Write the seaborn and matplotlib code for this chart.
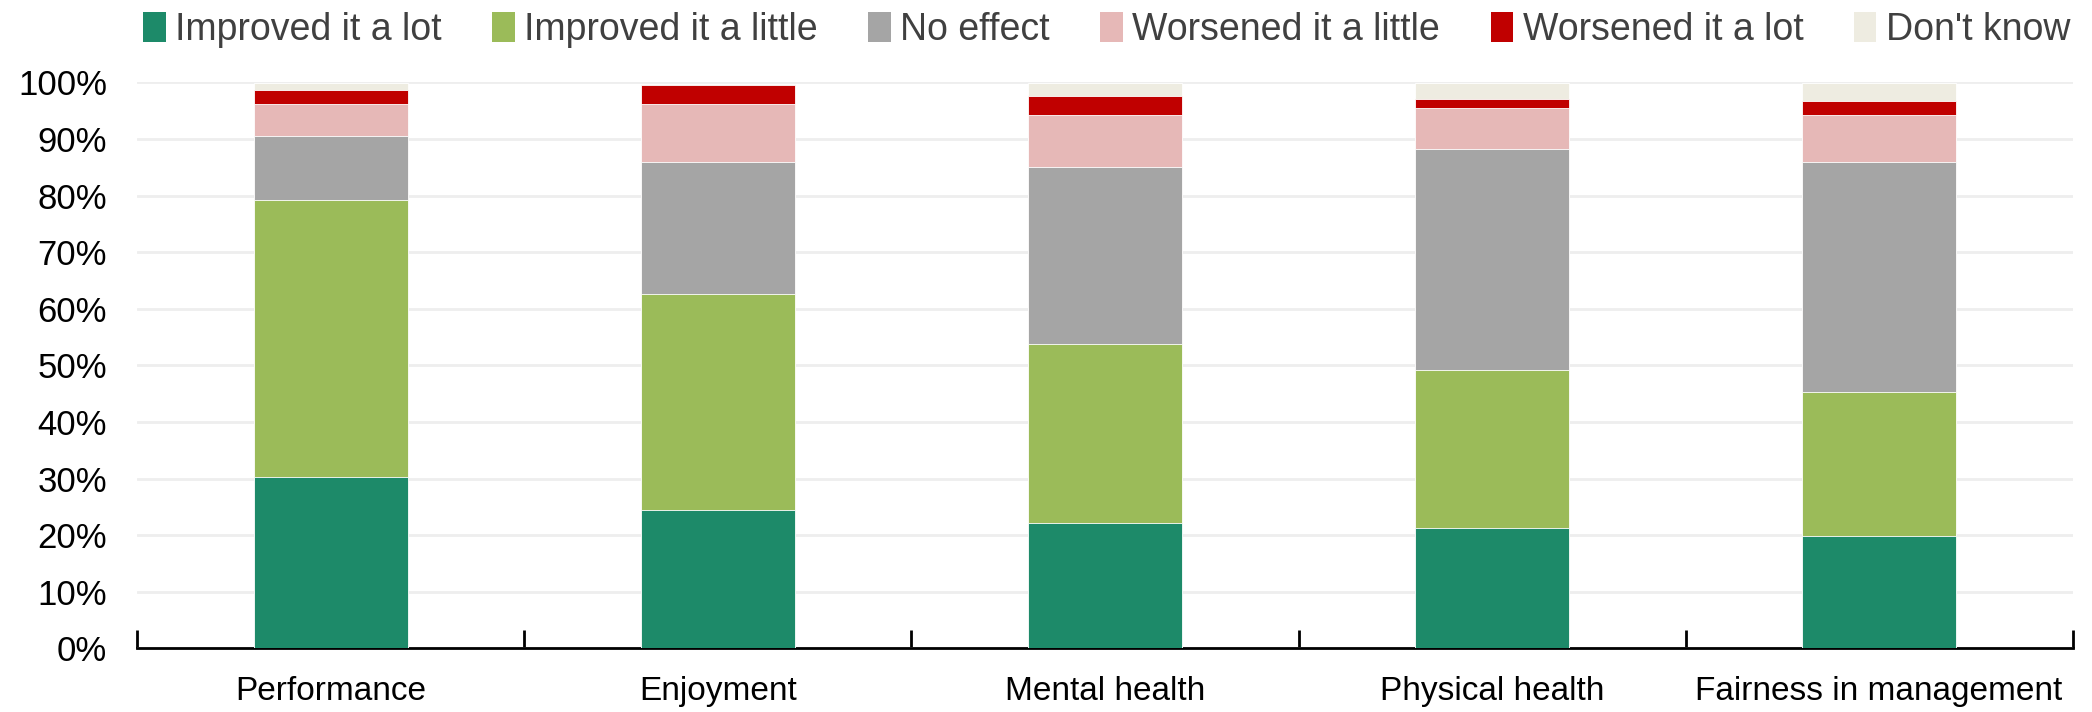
import pandas as pd
import numpy as np
import matplotlib
matplotlib.use("Agg")
import matplotlib.pyplot as plt
from matplotlib.patches import Patch
from matplotlib.ticker import MultipleLocator, FixedLocator, PercentFormatter
import seaborn as sns

# Data (share of respondents, %)
categories = ["Performance", "Enjoyment", "Mental health", "Physical health", "Fairness in management"]
improved_lot = [30.2, 24.5, 22.2, 21.2, 19.8]
improved_little = [49.1, 38.2, 31.6, 27.9, 25.5]
no_effect = [11.3, 23.2, 31.2, 39.1, 40.6]
worsened_little = [5.6, 10.3, 9.3, 7.2, 8.4]
worsened_lot = [2.4, 3.3, 3.3, 1.7, 2.4]
dont_know = [1.3, 0.3, 2.3, 2.8, 3.2]

series = ["Improved it a lot", "Improved it a little", "No effect",
          "Worsened it a little", "Worsened it a lot", "Don't know"]
colors = ["#1D8A69", "#9BBB59", "#A5A5A5", "#E6B8B7", "#C00000", "#EEECE1"]

df = pd.DataFrame({
    "Category": categories,
    series[0]: improved_lot,
    series[1]: improved_little,
    series[2]: no_effect,
    series[3]: worsened_little,
    series[4]: worsened_lot,
    series[5]: dont_know,
})

# cumulative sums for stacking
cum = df[series].cumsum(axis=1)
cum["Category"] = df["Category"]

sns.set_style("white")
plt.rcParams['font.family'] = ['Liberation Sans', 'DejaVu Sans']

fig = plt.figure(figsize=(20.92, 7.12), dpi=100)
ax = fig.add_axes([0.0657, 0.0893, 0.925, 0.795])

# draw from the top layer down so each lower layer covers the one above
for name, col in reversed(list(zip(series, colors))):
    sns.barplot(data=cum, x="Category", y=name, color=col, width=0.4,
                saturation=1, edgecolor="white", linewidth=0.6, ax=ax, zorder=3)

ax.set_ylim(0, 100)
ax.set_xlim(-0.5, len(categories) - 0.5)
ax.yaxis.set_major_locator(MultipleLocator(10))
ax.yaxis.set_major_formatter(PercentFormatter(decimals=0))
ax.grid(axis="y", color="#EEEEEE", linewidth=2, zorder=0)
ax.set_axisbelow(True)

ax.set_xlabel("")
ax.set_ylabel("")
for s in ["left", "right", "top"]:
    ax.spines[s].set_visible(False)
ax.spines["bottom"].set_color("black")
ax.spines["bottom"].set_linewidth(2)

# category boundary ticks pointing up
ax.xaxis.set_minor_locator(FixedLocator(np.arange(-0.5, len(categories), 1.0)))
ax.tick_params(axis="x", which="minor", bottom=True, direction="in", length=13, width=2, color="black")
ax.tick_params(axis="x", which="major", bottom=False, length=0, labelsize=24, pad=20)
ax.tick_params(axis="y", left=False, length=0, labelsize=25, pad=22)
for lbl in ax.get_xticklabels() + ax.get_yticklabels():
    lbl.set_color("black")

handles = [Patch(facecolor=c, edgecolor="none", label=s) for s, c in zip(series, colors)]
leg = fig.legend(handles=handles, loc="upper center", bbox_to_anchor=(0.529, 1.03), ncol=6,
                 frameon=False, fontsize=27, handlelength=0.6, handleheight=0.85,
                 handletextpad=0.25, columnspacing=1.35)
for t in leg.get_texts():
    t.set_color("#404040")

plt.savefig("out.png", dpi=100)
